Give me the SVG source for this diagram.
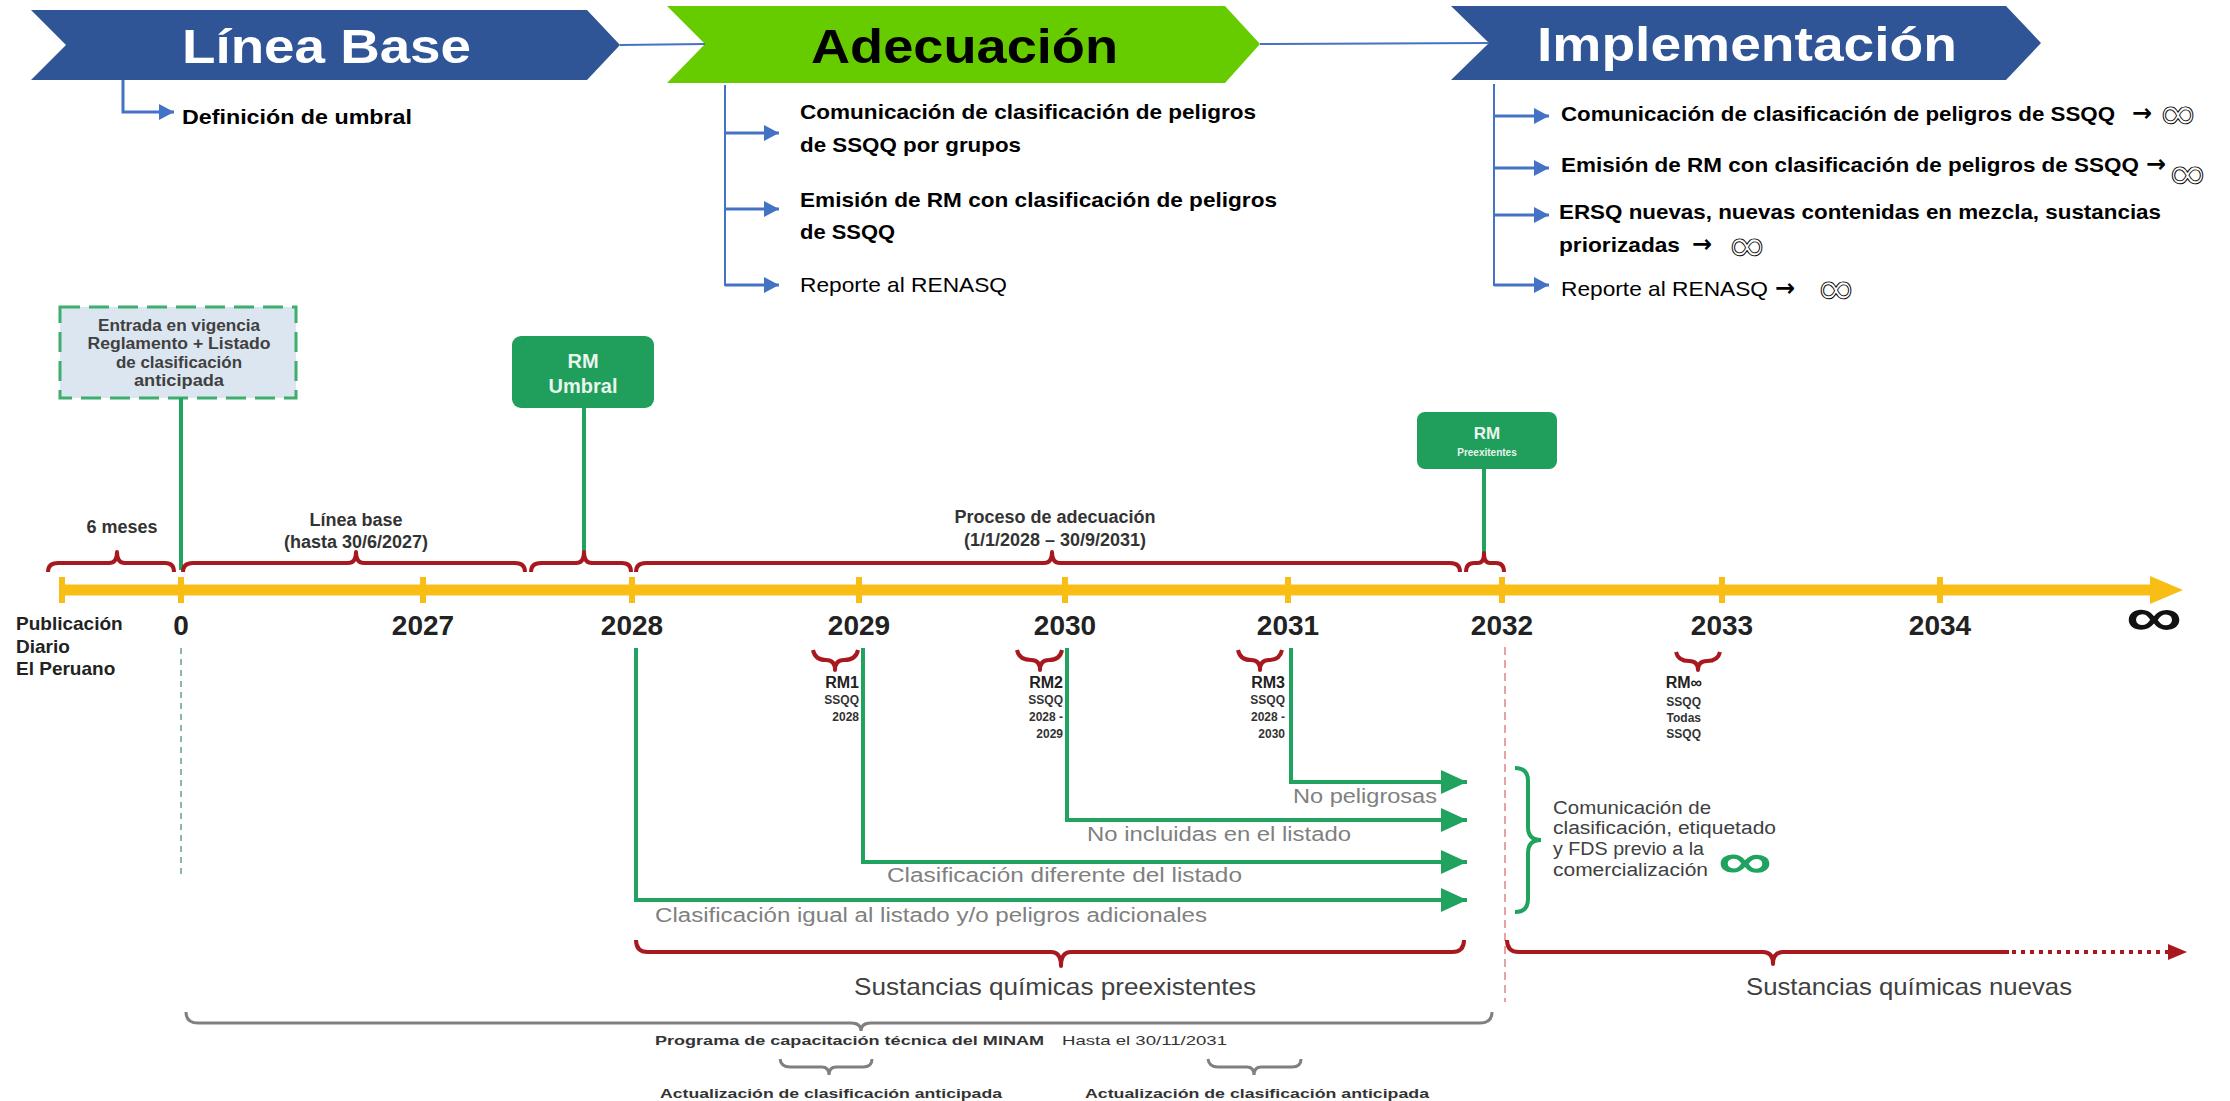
<svg xmlns="http://www.w3.org/2000/svg" width="2230" height="1101" viewBox="0 0 2230 1101">
<style>
text{font-family:"Liberation Sans",Arial,sans-serif}
.hdr{font-weight:bold;font-size:49px}
.bul{font-weight:bold;font-size:21px;fill:#000}
.bulr{font-size:21px;fill:#000}
.arw{font-family:"DejaVu Sans",sans-serif;font-size:24px;font-weight:bold;fill:#000}
.inf{font-family:"DejaVu Sans",sans-serif;font-size:46px;fill:none;stroke:#000;stroke-width:0.9}
.yr{font-weight:bold;font-size:28px;fill:#222;text-anchor:middle}
.lbl{font-weight:bold;font-size:18px;fill:#333;text-anchor:middle}
.box{font-weight:bold;font-size:16px;fill:#404040;text-anchor:middle}
.rm{font-weight:bold;font-size:16px;fill:#222;text-anchor:end}
.rms{font-weight:bold;font-size:12px;fill:#333;text-anchor:end}
.flow{font-size:20px;fill:#808080}
.com{font-size:18px;fill:#404040}
.sus{font-size:24px;fill:#404040;text-anchor:middle}
.sm{font-size:13px;fill:#333}
.blue{fill:none;stroke:#4472C4;stroke-width:3}
.bline{fill:none;stroke:#4472C4;stroke-width:2}
.red{fill:none;stroke:#A8191F;stroke-width:4;stroke-linejoin:round}
.grn{fill:none;stroke:#20A35E;stroke-width:4}
.gray{fill:none;stroke:#808080;stroke-width:3}
.tick{fill:#F8BE16}
</style>
<defs>
<marker id="ab" viewBox="0 0 15 16" refX="15" refY="8" markerWidth="15" markerHeight="16" markerUnits="userSpaceOnUse" orient="auto"><path d="M0,0 L15,8 L0,16 z" fill="#4472C4"/></marker>
<marker id="ag" viewBox="0 0 26 24" refX="26" refY="12" markerWidth="26" markerHeight="24" markerUnits="userSpaceOnUse" orient="auto"><path d="M0,0 L26,12 L0,24 z" fill="#20A35E"/></marker>
</defs>
<rect width="2230" height="1101" fill="#fff"/>

<!-- header chevrons -->
<g id="hdr-linea-base">
<polygon points="31,10 587,10 620,45 587,80 31,80 66,45" fill="#2F5597"/>
<text class="hdr" x="182" y="63" fill="#fff" textLength="289" lengthAdjust="spacingAndGlyphs">Línea Base</text>
</g>
<g id="hdr-adecuacion">
<polygon points="667,6 1225,6 1260,44 1225,83 667,83 705,44" fill="#66CC00"/>
<text class="hdr" x="811" y="63" fill="#000" textLength="307" lengthAdjust="spacingAndGlyphs">Adecuación</text>
</g>
<g id="hdr-implementacion">
<polygon points="1451,6 2006,6 2041,43 2006,80 1451,80 1489,43" fill="#2F5597"/>
<text class="hdr" x="1537" y="61" fill="#fff" textLength="420" lengthAdjust="spacingAndGlyphs">Implementación</text>
</g>

<!-- bullet texts -->
<g id="lb-items">
<text class="bul" x="182" y="124" textLength="230" lengthAdjust="spacingAndGlyphs">Definición de umbral</text>
</g>
<g id="ad-items">
<text class="bul" x="800" y="119" textLength="456" lengthAdjust="spacingAndGlyphs">Comunicación de clasificación de peligros</text>
<text class="bul" x="800" y="152" textLength="221" lengthAdjust="spacingAndGlyphs">de SSQQ por grupos</text>
<text class="bul" x="800" y="207" textLength="477" lengthAdjust="spacingAndGlyphs">Emisión de RM con clasificación de peligros</text>
<text class="bul" x="800" y="239" textLength="95" lengthAdjust="spacingAndGlyphs">de SSQQ</text>
<text class="bulr" x="800" y="292" textLength="207" lengthAdjust="spacingAndGlyphs">Reporte al RENASQ</text>
</g>
<g id="im-items">
<text class="bul" x="1561" y="121" textLength="554" lengthAdjust="spacingAndGlyphs">Comunicación de clasificación de peligros de SSQQ</text>
<text class="arw" x="2132" y="121">→</text>
<text class="inf" x="2158" y="129" textLength="40" lengthAdjust="spacingAndGlyphs">∞</text>
<text class="bul" x="1561" y="172" textLength="578" lengthAdjust="spacingAndGlyphs">Emisión de RM con clasificación de peligros de SSQQ</text>
<text class="arw" x="2146" y="172">→</text>
<text class="inf" x="2167" y="189" textLength="41" lengthAdjust="spacingAndGlyphs">∞</text>
<text class="bul" x="1559" y="219" textLength="602" lengthAdjust="spacingAndGlyphs">ERSQ nuevas, nuevas contenidas en mezcla, sustancias</text>
<text class="bul" x="1559" y="252" textLength="121" lengthAdjust="spacingAndGlyphs">priorizadas</text>
<text class="arw" x="1692" y="252">→</text>
<text class="inf" x="1727" y="261" textLength="40" lengthAdjust="spacingAndGlyphs">∞</text>
<text class="bulr" x="1561" y="296" textLength="207" lengthAdjust="spacingAndGlyphs">Reporte al RENASQ</text>
<text class="arw" x="1775" y="296">→</text>
<text class="inf" x="1816" y="304" textLength="40" lengthAdjust="spacingAndGlyphs">∞</text>
</g>

<!-- timeline axis -->
<g id="axis">
<line x1="62" y1="590" x2="2152" y2="590" stroke="#F8BE16" stroke-width="11"/>
<polygon points="2150,576 2183,590 2150,604" fill="#F8BE16"/>
<rect class="tick" x="59" y="577" width="6" height="26"/>
<rect class="tick" x="178" y="577" width="6" height="26"/>
<rect class="tick" x="420" y="577" width="6" height="26"/>
<rect class="tick" x="629" y="577" width="6" height="26"/>
<rect class="tick" x="856" y="577" width="6" height="26"/>
<rect class="tick" x="1062" y="577" width="6" height="26"/>
<rect class="tick" x="1285" y="577" width="6" height="26"/>
<rect class="tick" x="1499" y="577" width="6" height="26"/>
<rect class="tick" x="1719" y="577" width="6" height="26"/>
<rect class="tick" x="1937" y="577" width="6" height="26"/>
</g>
<g id="years">
<text class="yr" x="181" y="635">0</text>
<text class="yr" x="423" y="635">2027</text>
<text class="yr" x="632" y="635">2028</text>
<text class="yr" x="859" y="635">2029</text>
<text class="yr" x="1065" y="635">2030</text>
<text class="yr" x="1288" y="635">2031</text>
<text class="yr" x="1502" y="635">2032</text>
<text class="yr" x="1722" y="635">2033</text>
<text class="yr" x="1940" y="635">2034</text>
<text x="2126" y="636" font-family="DejaVu Sans,sans-serif" font-weight="bold" font-size="56" fill="#111" textLength="56" lengthAdjust="spacingAndGlyphs">∞</text>
</g>
<g id="publicacion">
<text x="16" y="630" font-weight="bold" font-size="19" fill="#222">Publicación</text>
<text x="16" y="653" font-weight="bold" font-size="19" fill="#222">Diario</text>
<text x="16" y="675" font-weight="bold" font-size="19" fill="#222">El Peruano</text>
</g>

<!-- milestone boxes -->
<g id="entrada-vigencia">
<rect x="60" y="307" width="236" height="91" fill="#DCE6F0" stroke="#3DAE6E" stroke-width="3" stroke-dasharray="20 9"/>
<text class="box" x="179" y="331" textLength="162" lengthAdjust="spacingAndGlyphs">Entrada en vigencia</text>
<text class="box" x="179" y="349" textLength="183" lengthAdjust="spacingAndGlyphs">Reglamento + Listado</text>
<text class="box" x="179" y="368" textLength="126" lengthAdjust="spacingAndGlyphs">de clasificación</text>
<text class="box" x="179" y="386" textLength="90" lengthAdjust="spacingAndGlyphs">anticipada</text>
</g>
<g id="rm-umbral">
<rect x="512" y="336" width="142" height="72" rx="9" fill="#1F9F5B"/>
<text x="583" y="368" font-size="20" font-weight="bold" fill="#E8F5EC" text-anchor="middle">RM</text>
<text x="583" y="393" font-size="20" font-weight="bold" fill="#E8F5EC" text-anchor="middle">Umbral</text>
</g>
<g id="rm-preexistentes">
<rect x="1417" y="412" width="140" height="57" rx="8" fill="#1F9F5B"/>
<text x="1487" y="439" font-size="17" font-weight="bold" fill="#E8F5EC" text-anchor="middle">RM</text>
<text x="1487" y="456" font-size="10" font-weight="bold" fill="#E8F5EC" text-anchor="middle">Preexitentes</text>
</g>

<!-- upper brace labels -->
<g id="brace-labels">
<text class="lbl" x="122" y="533" font-size="19">6 meses</text>
<text class="lbl" x="356" y="526">Línea base</text>
<text class="lbl" x="356" y="548">(hasta 30/6/2027)</text>
<text class="lbl" x="1055" y="523">Proceso de adecuación</text>
<text class="lbl" x="1055" y="546">(1/1/2028 – 30/9/2031)</text>
</g>

<!-- RM markers below axis -->
<g id="rm1">
<text class="rm" x="859" y="688">RM1</text>
<text class="rms" x="859" y="704">SSQQ</text>
<text class="rms" x="859" y="721">2028</text>
</g>
<g id="rm2">
<text class="rm" x="1063" y="688">RM2</text>
<text class="rms" x="1063" y="704">SSQQ</text>
<text class="rms" x="1063" y="721">2028 -</text>
<text class="rms" x="1063" y="738">2029</text>
</g>
<g id="rm3">
<text class="rm" x="1285" y="688">RM3</text>
<text class="rms" x="1285" y="704">SSQQ</text>
<text class="rms" x="1285" y="721">2028 -</text>
<text class="rms" x="1285" y="738">2030</text>
</g>
<g id="rm-inf">
<text class="rm" x="1702" y="688" text-anchor="middle">RM∞</text>
<text class="rms" x="1701" y="706" text-anchor="middle">SSQQ</text>
<text class="rms" x="1701" y="722" text-anchor="middle">Todas</text>
<text class="rms" x="1701" y="738" text-anchor="middle">SSQQ</text>
</g>

<!-- flow labels -->
<g id="flow-labels">
<text class="flow" x="1293" y="803" textLength="144" lengthAdjust="spacingAndGlyphs">No peligrosas</text>
<text class="flow" x="1087" y="841" textLength="264" lengthAdjust="spacingAndGlyphs">No incluidas en el listado</text>
<text class="flow" x="887" y="882" textLength="355" lengthAdjust="spacingAndGlyphs">Clasificación diferente del listado</text>
<text class="flow" x="655" y="922" textLength="552" lengthAdjust="spacingAndGlyphs">Clasificación igual al listado y/o peligros adicionales</text>
</g>
<g id="comunicacion">
<text class="com" x="1553" y="814" textLength="158" lengthAdjust="spacingAndGlyphs">Comunicación de</text>
<text class="com" x="1553" y="834" textLength="223" lengthAdjust="spacingAndGlyphs">clasificación, etiquetado</text>
<text class="com" x="1553" y="855" textLength="151" lengthAdjust="spacingAndGlyphs">y FDS previo a la</text>
<text class="com" x="1553" y="876" textLength="155" lengthAdjust="spacingAndGlyphs">comercialización</text>
<text x="1718" y="878" font-family="DejaVu Sans,sans-serif" font-weight="bold" font-size="50" fill="#20A35E" textLength="54" lengthAdjust="spacingAndGlyphs">∞</text>
</g>
<g id="sustancias">
<text class="sus" x="1055" y="995" textLength="402" lengthAdjust="spacingAndGlyphs">Sustancias químicas preexistentes</text>
<text class="sus" x="1909" y="995" textLength="326" lengthAdjust="spacingAndGlyphs">Sustancias químicas nuevas</text>
</g>
<g id="capacitacion">
<text class="sm" x="655" y="1045" font-weight="bold" textLength="389" lengthAdjust="spacingAndGlyphs">Programa de capacitación técnica del MINAM</text>
<text class="sm" x="1062" y="1045" textLength="165" lengthAdjust="spacingAndGlyphs">Hasta el 30/11/2031</text>
<text class="sm" x="660" y="1098" font-weight="bold" textLength="342" lengthAdjust="spacingAndGlyphs">Actualización de clasificación anticipada</text>
<text class="sm" x="1085" y="1098" font-weight="bold" textLength="344" lengthAdjust="spacingAndGlyphs">Actualización de clasificación anticipada</text>
</g>

<!-- connectors -->
<g id="connectors">
<line class="bline" x1="620" y1="45" x2="705" y2="44"/>
<line class="bline" x1="1260" y1="44" x2="1489" y2="43"/>
<path class="blue" d="M123,80 V112 H174" marker-end="url(#ab)"/>
<path class="bline" d="M725,85 V286"/>
<path class="blue" d="M725,133 H779" marker-end="url(#ab)"/>
<path class="blue" d="M725,209 H779" marker-end="url(#ab)"/>
<path class="blue" d="M725,285 H779" marker-end="url(#ab)"/>
<path class="bline" d="M1494,84 V286"/>
<path class="blue" d="M1494,116 H1549" marker-end="url(#ab)"/>
<path class="blue" d="M1494,168 H1549" marker-end="url(#ab)"/>
<path class="blue" d="M1494,215 H1549" marker-end="url(#ab)"/>
<path class="blue" d="M1494,285 H1549" marker-end="url(#ab)"/>

<!-- milestone stems -->
<line class="grn" x1="181" y1="398" x2="181" y2="570"/>
<line class="grn" x1="584" y1="408" x2="584" y2="553"/>
<line class="grn" x1="1484" y1="469" x2="1484" y2="554"/>

<!-- upper braces -->
<path class="red" d="M48,572 Q48,563 58,563 H109 Q117,563 117,552 Q117,563 125,563 H165 Q174,563 174,572"/>
<path class="red" d="M183,572 Q183,563 193,563 H348 Q356,563 356,552 Q356,563 364,563 H515 Q525,563 525,572"/>
<path class="red" d="M531,572 Q531,563 541,563 H576 Q584,563 584,552 Q584,563 592,563 H622 Q631,563 631,572"/>
<path class="red" d="M636,572 Q636,563 646,563 H1044 Q1052,563 1052,552 Q1052,563 1060,563 H1450 Q1460,563 1460,572"/>
<path class="red" d="M1466,572 Q1466,563 1474,563 H1478 Q1484,563 1484,553 Q1484,563 1490,563 H1496 Q1504,563 1504,572"/>

<!-- dashed verticals -->
<line x1="181" y1="648" x2="181" y2="875" stroke="#8DB8A0" stroke-width="2" stroke-dasharray="6 5"/>
<line x1="1505" y1="647" x2="1505" y2="1002" stroke="#E6A3A3" stroke-width="2" stroke-dasharray="8 5"/>

<!-- RM small braces -->
<path class="red" d="M813,650 Q815,660 826,660 Q835,660 835,670 Q835,660 844,660 Q856,660 858,650"/>
<path class="red" d="M1017,650 Q1019,660 1031,660 Q1040,660 1040,670 Q1040,660 1049,660 Q1060,660 1062,650"/>
<path class="red" d="M1238,650 Q1240,660 1251,660 Q1260,660 1260,670 Q1260,660 1269,660 Q1280,660 1282,650"/>
<path class="red" d="M1676,652 Q1678,661 1689,661 Q1698,661 1698,670 Q1698,661 1707,661 Q1718,661 1720,652"/>

<!-- green flow arrows -->
<path class="grn" d="M636,648 V900 H1467" marker-end="url(#ag)"/>
<path class="grn" d="M863,648 V862 H1467" marker-end="url(#ag)"/>
<path class="grn" d="M1067,648 V820 H1467" marker-end="url(#ag)"/>
<path class="grn" d="M1291,648 V782 H1467" marker-end="url(#ag)"/>
<path class="grn" d="M1515,768 Q1528,768 1528,781 V827 Q1528,840 1541,840 Q1528,840 1528,853 V899 Q1528,912 1515,912"/>

<!-- lower braces -->
<path class="red" d="M636,940 Q636,952 648,952 H1051 Q1061,952 1061,966 Q1061,952 1071,952 H1452 Q1464,952 1464,940"/>
<path class="red" d="M1507,940 Q1507,952 1519,952 H1763 Q1773,952 1773,964 Q1773,952 1783,952 H2009"/>
<path class="red" d="M2012,952 H2170" stroke-dasharray="4 5"/>
<polygon points="2168,944 2187,952 2168,960" fill="#A8191F"/>
<path class="gray" d="M186,1012 Q186,1023 198,1023 H851 Q861,1023 861,1031 Q861,1023 871,1023 H1480 Q1492,1023 1492,1012"/>
<path class="gray" d="M780,1059 Q781,1067 790,1067 H822 Q829,1067 829,1075 Q829,1067 836,1067 H863 Q872,1067 872,1059"/>
<path class="gray" d="M1208,1059 Q1209,1067 1218,1067 H1247 Q1254,1067 1254,1075 Q1254,1067 1261,1067 H1292 Q1301,1067 1301,1059"/>
</g>
</svg>
